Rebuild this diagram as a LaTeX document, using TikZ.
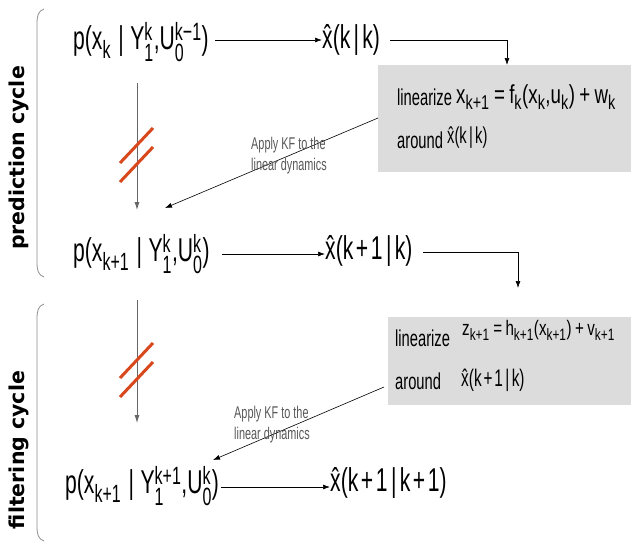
\documentclass[tikz,border=0pt]{standalone}
\usepackage{fontspec}
\usepackage{amsmath}
\usetikzlibrary{arrows.meta}
\setmainfont{Liberation Sans}
\newfontfamily\nar[FakeStretch=0.64]{Liberation Sans}
\newfontfamily\narw[FakeStretch=0.72]{Liberation Sans}
\newfontfamily\cyclefont{DejaVu Sans}
\DeclareMathSizes{33}{33}{25}{18}
\DeclareMathSizes{23}{23}{18}{13}
\DeclareMathSizes{24}{24}{19}{14}
\DeclareMathSizes{26}{26}{20}{15}
\DeclareMathSizes{21}{21}{16.5}{12}
\newcommand\SP[2]{\ensuremath{^{\text{#1}}_{\text{#2}}}}
\newcommand\SB[1]{\ensuremath{_{\text{#1}}}}
\newcommand\xh{\^{x}}
\newcommand\pl{\kern.08em+\kern.08em}
\newcommand\br{\kern.1em|\kern.1em}
\newcommand\pbr{\kern.22em|\kern.2em}
\definecolor{slash}{HTML}{D9481C}
\definecolor{boxgray}{HTML}{DCDCDC}
\begin{document}
\begin{tikzpicture}[x=1pt,y=-1pt,
  formula/.style={inner sep=0pt,anchor=west,font=\nar\fontsize{33}{38}\selectfont},
  boxtext/.style={inner sep=0pt,anchor=west,font=\nar\fontsize{23}{26}\selectfont},
  kflabel/.style={inner sep=0pt,align=left,text=black!65,font=\nar\fontsize{17}{21}\selectfont},
  cyclelabel/.style={rotate=90,inner sep=0pt,font=\cyclefont\bfseries\fontsize{20.5}{22}\selectfont},
  linbox/.style={fill=boxgray,draw=none,inner sep=0pt,anchor=north west},
  conn/.style={line width=0.7pt,-{Latex[length=7pt,width=5pt]}},
  vconn/.style={line width=0.8pt,black!60,-{Latex[length=8pt,width=5pt]}},
  bracket/.style={line width=0.8pt,black!45},
  slashline/.style={line width=3pt,slash}]
\useasboundingbox (0,0) rectangle (631,544);
\fill[white] (0,0) rectangle (631,544);

% brackets and cycle labels
\draw[bracket] (44,9) .. controls (38,11) and (37,16) .. (37,24) -- (37,262) .. controls (37,270) and (38,275) .. (44,277);
\draw[bracket] (44,304) .. controls (38,306) and (37,311) .. (37,319) -- (37,526) .. controls (37,534) and (38,539) .. (44,541);
\node[cyclelabel] (pc) at (19,158) {prediction cycle};
\node[cyclelabel] (fc) at (19,450) {filtering cycle};

% grey boxes
\node[linbox,minimum width=253pt,minimum height=107pt] (box1) at (378,65) {};
\node[linbox,minimum width=243pt,minimum height=88pt] (box2) at (388,317) {};

% box 1 text
\node[boxtext] (lin1) at (397,97) {linearize};
\node[boxtext,font=\narw\fontsize{26}{30}\selectfont] (eq1) at (456,97) {x\SB{k+1}\,=\,f\SB{k}(x\SB{k},u\SB{k})\,+\,w\SB{k}};
\node[boxtext] (ar1) at (397,140) {around};
\node[boxtext] (xh1) at (447,138) {\xh(k\br k)};

% box 2 text
\node[boxtext] (lin2) at (395,338) {linearize};
\node[boxtext,font=\narw\fontsize{21}{25}\selectfont] (eq2) at (462,330) {z\SB{k+1}\,=\,h\SB{k+1}(x\SB{k+1})\,+\,v\SB{k+1}};
\node[boxtext] (ar2) at (395,381) {around};
\node[boxtext,font=\nar\fontsize{24}{28}\selectfont] (xh2) at (461,380) {\xh(k\pl 1\br k)};

% formulas
\node[formula] (A) at (73,42) {p(x\SB{k}\pbr Y\SP{k}{1},U\SP{k−1}{0})};
\node[formula] (B) at (322,40) {\xh(k\br k)};
\node[formula] (C) at (73,254) {p(x\SB{k+1}\pbr Y\SP{k}{1},U\SP{k}{0})};
\node[formula] (D) at (325,251) {\xh(k\pl 1\br k)};
\node[formula] (E) at (65,486) {p(x\SB{k+1}\pbr Y\SP{k+1}{1},U\SP{k}{0})};
\node[formula] (F) at (330,483) {\xh(k\pl 1\br k\pl 1)};

% horizontal connectors
\coordinate (a1) at (215,40);
\coordinate (d1) at (222,254);
\coordinate (e1) at (221,487);
\draw[conn] (a1) -- (a1 -| B.west);
\draw[conn] (d1) -- (d1 -| D.west);
\draw[conn] (e1) -- (e1 -| F.west);

% connectors to boxes
\coordinate (b1) at (390,40);
\coordinate (t1) at (507,65);
\draw[conn] (b1) -| (t1);
\coordinate (b2) at (423,252);
\coordinate (t2) at (518,288);
\draw[conn] (b2) -| (t2);

% KF arrows
\coordinate (k1s) at (378,118);
\coordinate (k1e) at (165,208);
\draw[conn,line width=0.6pt] (k1s) -- (k1e);
\coordinate (k2s) at (384,387);
\coordinate (k2e) at (213,460);
\draw[conn,line width=0.6pt] (k2s) -- (k2e);
\node[kflabel] (l1) at (289,156) {Apply KF to the\\linear dynamics};
\node[kflabel] (l2) at (272,425) {Apply KF to the\\linear dynamics};

% vertical arrows
\coordinate (v1s) at (137,83);
\coordinate (v1e) at (137,210);
\draw[vconn] (v1s) -- (v1e);
\coordinate (v2s) at (137,300);
\coordinate (v2e) at (137,423);
\draw[vconn] (v2s) -- (v2e);

% red slashes
\draw[slashline] (120,163) -- (153,128);
\draw[slashline] (120,182) -- (153,147);
\draw[slashline] (120,378) -- (153,343);
\draw[slashline] (120,397) -- (153,362);
\end{tikzpicture}
\end{document}
